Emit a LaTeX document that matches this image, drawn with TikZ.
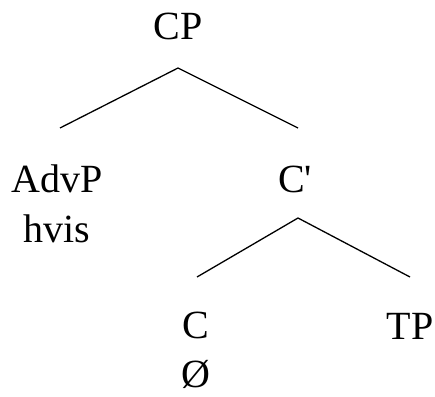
\documentclass[tikz,border=0pt]{standalone}
\usepackage{fontspec}
\setmainfont{Liberation Serif}[Ligatures=TeXOff]
\begin{document}
\begin{tikzpicture}[x=1pt,y=-1pt,
  lbl/.style={font=\fontsize{40}{46}\selectfont, inner sep=0pt, anchor=base},
  edge/.style={line width=1.3pt}]
\useasboundingbox (0,0) rectangle (435,396);
\node[lbl] (cp) at (178,39) {CP};
\node[lbl] (advp) at (57,192) {AdvP};
\node[lbl] (hvis) at (57,242) {hvis};
\node[lbl] (cbar) at (295,192) {C'};
\node[lbl] (c) at (196,338) {C};
\node[lbl] (empty) at (196,387) {Ø};
\node[lbl] (tp) at (410,339) {TP};
\coordinate (cptop) at (178,68);
\coordinate (advl) at (60,128);
\coordinate (cbarl) at (298,128);
\coordinate (cbartop) at (298,218);
\coordinate (cl) at (197,277);
\coordinate (tpl) at (410,277);
\draw[edge] (advl) -- (cptop) -- (cbarl);
\draw[edge] (cl) -- (cbartop) -- (tpl);
\end{tikzpicture}
\end{document}
